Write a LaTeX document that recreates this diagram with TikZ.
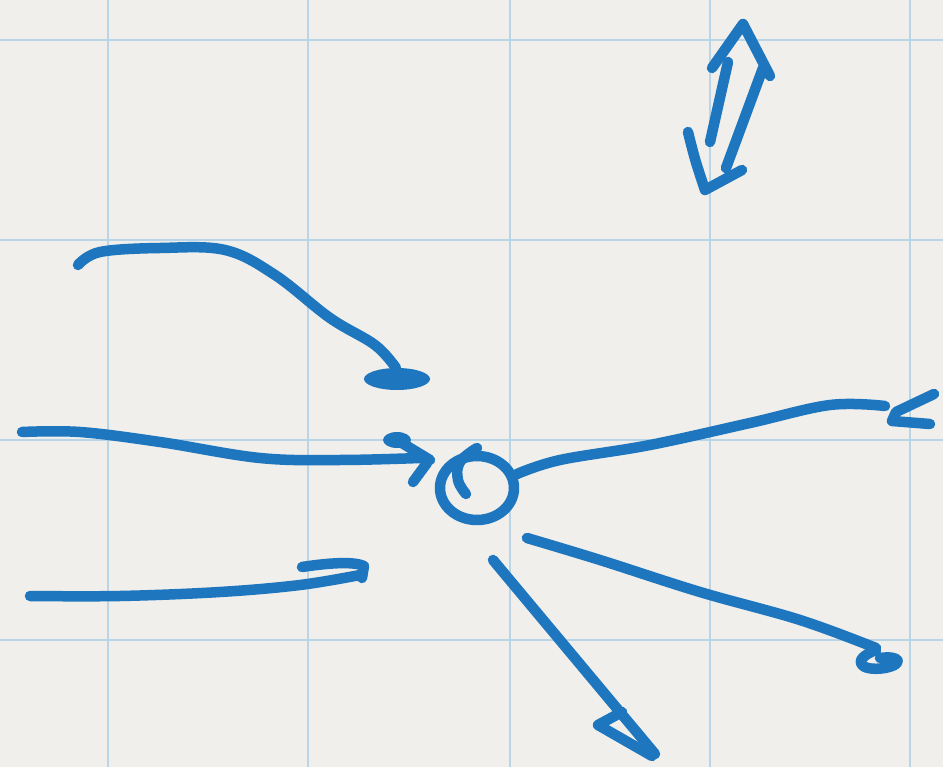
\documentclass[tikz,border=0pt]{standalone}
\usetikzlibrary{shapes.geometric}
\definecolor{paper}{RGB}{240,239,236}
\definecolor{gridblue}{RGB}{185,213,232}
\definecolor{ink}{RGB}{30,118,190}
\begin{document}
\begin{tikzpicture}[x=1pt,y=-1pt,
  pen/.style={draw=ink,line width=10.5pt,line cap=round,line join=round},
  gridline/.style={draw=gridblue,line width=2pt}]
\fill[paper] (0,0) rectangle (943,767);
\useasboundingbox (0,0) rectangle (943,767);
% grid
\foreach \x in {108,308,510,710,910} \draw[gridline] (\x,0) -- (\x,767);
\foreach \y in {40,240,440,640} \draw[gridline] (0,\y) -- (943,\y);
% double-headed arrow at top
\draw[pen] (712,68) -- (743,24) -- (770,76);
\draw[pen] (763,68) -- (726,168);
\draw[pen] (728,62) -- (710,142);
\draw[pen] (688,132) .. controls (695,160) .. (705,190) -- (742,170);
% upper-left arrow with blob
\draw[pen] plot[smooth,tension=0.6] coordinates {(78,265) (100,252) (160,248) (225,250) (275,275) (330,318) (375,345) (396,368)};
\fill[ink] (397,379) ellipse [x radius=33, y radius=11];
% middle-left arrow into circle
\draw[pen] plot[smooth,tension=0.6] coordinates {(22,432) (80,432) (160,442) (260,458) (340,460) (420,458)};
\fill[ink] (397,440) ellipse [x radius=14, y radius=8];
\draw[pen] (397,440) -- (430,460);
\draw[pen] (413,482) -- (427,463);
% circle
\draw[pen] (477,488) ellipse [x radius=37, y radius=32];
\draw[pen] plot[smooth,tension=0.7] coordinates {(477,448) (460,462) (458,480) (466,494)};
% right arrow
\draw[pen] plot[smooth,tension=0.6] coordinates {(517,474) (560,460) (650,445) (750,423) (830,405) (885,406)};
\draw[pen] (934,394) -- (896,412) -- (892,421) -- (930,424);
% lower-left arrow
\draw[pen] plot[smooth,tension=0.6] coordinates {(30,596) (120,596) (220,592) (300,585) (360,575)};
\draw[pen] (302,567) .. controls (335,562) and (355,562) .. (364,566) -- (362,578);
% diagonal down arrow
\draw[pen] (493,560) -- (655,754);
\draw[pen] (622,712) -- (598,725) -- (652,756);
% lower-right arrow
\draw[pen] plot[smooth,tension=0.6] coordinates {(527,538) (600,560) (700,592) (800,620) (876,648)};
\draw[pen] (876,650) .. controls (850,660) and (860,672) .. (885,668) .. controls (905,664) and (900,655) .. (880,658);
\end{tikzpicture}
\end{document}
